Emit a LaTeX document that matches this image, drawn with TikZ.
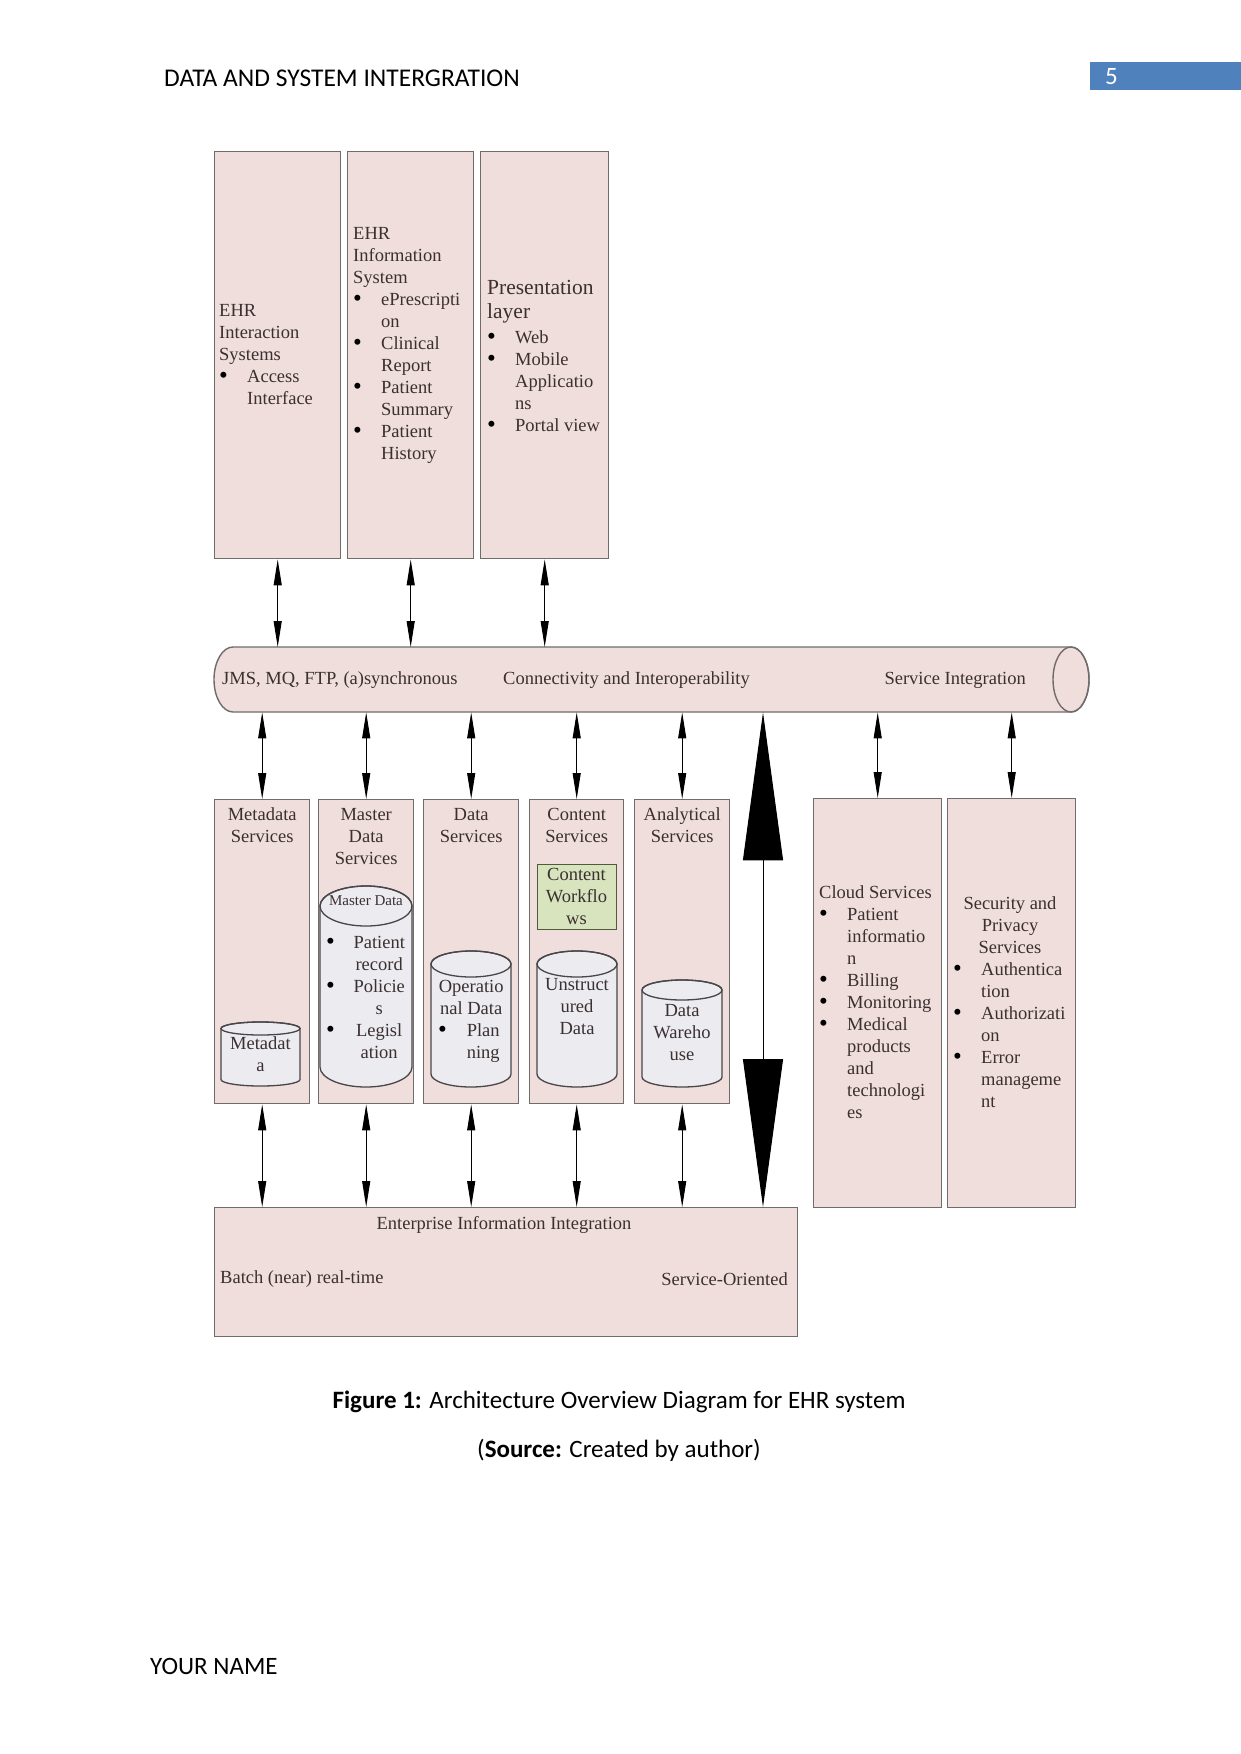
\documentclass[tikz,border=0pt]{standalone}
\usepackage{fontspec}
\setmainfont{Liberation Serif}
\newfontfamily\calib{Carlito}
\usetikzlibrary{arrows.meta}
\definecolor{boxfill}{RGB}{240,222,220}
\definecolor{boxline}{RGB}{112,108,108}
\definecolor{txt}{RGB}{58,48,48}
\definecolor{cylfill}{RGB}{236,235,240}
\definecolor{cylline}{RGB}{72,70,72}
\definecolor{greenfill}{RGB}{215,228,189}
\definecolor{greenline}{RGB}{80,90,60}
\definecolor{hdrblue}{RGB}{79,129,189}
\newlength\myind \setlength\myind{28pt}
\newcommand\bigbul{\raisebox{-1.5pt}{\fontsize{25}{22}\selectfont\textcolor{black}{\textbullet}}}
\newcommand\bl[1]{\makebox[\myind][l]{\bigbul}#1}
\newcommand\ct[1]{\hspace*{\myind}#1}
\newcommand\mbl[1]{\makebox[22pt][l]{\bigbul}\makebox[62pt][c]{#1}}
\newcommand\mct[1]{\hspace*{22pt}\makebox[62pt][c]{#1}}
\newcommand\ptx[2]{\parbox[t]{#1}{#2}}
\newcommand\drawcyl[5]{%
  \pgfmathsetmacro\cylrx{(#2-#1)/2}%
  \path[cyl] (#1,#3+#5) -- (#1,#4-#5) arc[start angle=180,end angle=360,x radius=\cylrx pt,y radius=#5pt]
     -- (#2,#3+#5) arc[start angle=0,end angle=180,x radius=\cylrx pt,y radius=#5pt] -- cycle;
  \draw[cyl, fill=none] ({(#1+#2)/2},#3+#5) ellipse[x radius=\cylrx pt, y radius=#5pt];
}
\tikzset{
  pbox/.style={draw=boxline, fill=boxfill, line width=1.4pt, rectangle, inner sep=0pt, anchor=north west},
  dtext/.style={text=txt, inner sep=0pt, font=\fontsize{18.5}{22}\selectfont},
  conn/.style={draw=black, line width=1pt, {Triangle[length=26pt,width=8pt]}-{Triangle[length=26pt,width=8pt]}},
  bigarrow/.style={draw=black, line width=1pt, {Triangle[length=148pt,width=40pt]}-{Triangle[length=148pt,width=40pt]}},
  cyl/.style={draw=cylline, fill=cylfill, line width=1.3pt},
  hdrfont/.style={font=\calib\fontsize{25}{30}\selectfont, inner sep=0pt},
}
\begin{document}
\begin{tikzpicture}[x=1pt,y=-1pt]
\path[use as bounding box, fill=white] (0,0) rectangle (1241,1754);

% header / footer
\node[hdrfont, font=\calib\fontsize{25.5}{30}\selectfont, anchor=base west] (hdr) at (164,86) {DATA AND SYSTEM INTERGRATION};
\node[fill=hdrblue, anchor=north west, minimum width=151pt, minimum height=28pt, inner sep=0pt] (pg) at (1090,62) {};
\node[hdrfont, text=white, anchor=base west] (pgn) at (1105,84) {5};
\node[hdrfont, anchor=base] (cap1) at (619,1408) {\textbf{Figure 1:} Architecture Overview Diagram for EHR system};
\node[hdrfont, anchor=base] (cap2) at (619,1457) {(\textbf{Source:} Created by author)};
\node[hdrfont, anchor=base west] (nm) at (150,1674) {YOUR NAME};

% top boxes
\node[pbox, minimum width=126pt, minimum height=407pt] (t1) at (214,151) {};
\node[pbox, minimum width=126pt, minimum height=407pt] (t2) at (347,151) {};
\node[pbox, minimum width=128pt, minimum height=407pt] (t3) at (480,151) {};
\node[dtext, anchor=base west] (t1t) at (219,316) {\ptx{120pt}{\raggedright EHR\\Interaction\\Systems\\\bl{Access}\\\ct{Interface}}};
\node[dtext, anchor=base west] (t2t) at (353,239) {\ptx{118pt}{\raggedright EHR\\Information\\System\\\bl{ePrescripti}\\\ct{on}\\\bl{Clinical}\\\ct{Report}\\\bl{Patient}\\\ct{Summary}\\\bl{Patient}\\\ct{History}}};
\node[dtext, font=\fontsize{21.5}{24}\selectfont, anchor=base west] (t3h) at (487,294) {\ptx{118pt}{\raggedright Presentation\\layer}};
\node[dtext, anchor=base west] (t3t) at (487,343) {\ptx{118pt}{\raggedright \bl{Web}\\\bl{Mobile}\\\ct{Applicatio}\\\ct{ns}\\\bl{Portal view}}};

% pipe
\node[inner sep=0pt, minimum width=875pt, minimum height=65pt, anchor=north west] (pipe) at (214,647) {};
\path[draw=boxline, fill=boxfill, line width=1.4pt] (233,647) -- (1071,647)
   arc[start angle=90, end angle=-90, x radius=18pt, y radius=32.5pt] -- (233,712)
   arc[start angle=270, end angle=90, x radius=19pt, y radius=32.5pt] -- cycle;
\draw[draw=boxline, line width=1.4pt] (1071,679.5) ellipse[x radius=18pt, y radius=32.5pt];
\node[dtext, anchor=base west] (p1) at (222,684) {JMS, MQ, FTP, (a)synchronous};
\node[dtext, anchor=base west] (p2) at (503,684) {Connectivity and Interoperability};
\node[dtext, anchor=base east] (p3) at (1026,684) {Service Integration};

% middle boxes
\node[pbox, minimum width=95pt, minimum height=304pt] (m1) at (214,799) {};
\node[pbox, minimum width=95pt, minimum height=304pt] (m2) at (318,799) {};
\node[pbox, minimum width=95pt, minimum height=304pt] (m3) at (423,799) {};
\node[pbox, minimum width=94pt, minimum height=304pt] (m4) at (529,799) {};
\node[pbox, minimum width=95pt, minimum height=304pt] (m5) at (634,799) {};
\node[dtext, anchor=base] (m1t) at (m1.north |- 0,820) {\ptx{95pt}{\centering Metadata\\Services}};
\node[dtext, anchor=base] (m2t) at (m2.north |- 0,820) {\ptx{95pt}{\centering Master\\Data\\Services}};
\node[dtext, anchor=base] (m3t) at (m3.north |- 0,820) {\ptx{95pt}{\centering Data\\Services}};
\node[dtext, anchor=base] (m4t) at (m4.north |- 0,820) {\ptx{94pt}{\centering Content\\Services}};
\node[dtext, anchor=base] (m5t) at (m5.north |- 0,820) {\ptx{95pt}{\centering Analytical\\Services}};

% cylinders
\drawcyl{221}{300}{1022}{1086}{6.5}
\drawcyl{320}{412}{886}{1087}{20}
\drawcyl{431}{511}{951}{1087}{13}
\drawcyl{537}{617}{951}{1087}{13}
\drawcyl{642}{722}{980}{1087}{10}
\node[dtext, anchor=base] (c1t) at (260.5,1049) {\ptx{79pt}{\centering Metadat\\a}};
\node[dtext, font=\fontsize{15}{18}\selectfont, anchor=base] (c2h) at (366,905) {Master Data};
\node[dtext, anchor=base west] (c2t) at (326,948) {\ptx{90pt}{\raggedright\mbl{Patient}\\\mct{record}\\\mbl{Policie}\\\mct{s}\\\mbl{Legisl}\\\mct{ation}}};
\node[dtext, anchor=base west] (c3t) at (431,992) {\ptx{80pt}{\raggedright\makebox[80pt][c]{Operatio}\\\makebox[80pt][c]{nal Data}\\\hspace*{7pt}\makebox[20pt][l]{\bigbul}\makebox[50pt][c]{Plan}\\\hspace*{27pt}\makebox[50pt][c]{ning}}};
\node[dtext, anchor=base] (c4t) at (577,990) {\ptx{80pt}{\centering Unstruct\\ured\\Data}};
\node[dtext, anchor=base] (c5t) at (682,1016) {\ptx{80pt}{\centering Data\\Wareho\\use}};

% content workflows
\node[draw=greenline, fill=greenfill, line width=1.3pt, anchor=north west, minimum width=79pt, minimum height=65pt, inner sep=0pt] (cwf) at (537,864) {};
\node[dtext, anchor=base] (cwft) at (576.5,880) {\ptx{79pt}{\centering Content\\Workflo\\ws}};

% cloud and security
\node[pbox, minimum width=128pt, minimum height=409pt] (cl) at (813,798) {};
\node[pbox, minimum width=128pt, minimum height=409pt] (sec) at (947,798) {};
\node[dtext, anchor=base west] (clt) at (819,898) {\ptx{122pt}{\raggedright Cloud Services\\\bl{Patient}\\\ct{informatio}\\\ct{n}\\\bl{Billing}\\\bl{Monitoring}\\\bl{Medical}\\\ct{products}\\\ct{and}\\\ct{technologi}\\\ct{es}}};
\node[dtext, anchor=base] (sech) at (1010,909) {\ptx{128pt}{\centering Security and\\Privacy\\Services}};
\node[dtext, anchor=base west] (sect) at (953,975) {\ptx{122pt}{\raggedright \bl{Authentica}\\\ct{tion}\\\bl{Authorizati}\\\ct{on}\\\bl{Error}\\\ct{manageme}\\\ct{nt}}};

% bottom box
\node[pbox, minimum width=583pt, minimum height=129pt] (eii) at (214,1207) {};
\node[dtext, anchor=base] (eiit) at (504,1229) {Enterprise Information Integration};
\node[dtext, anchor=base west] (eii1) at (220,1283) {Batch (near) real-time};
\node[dtext, anchor=base east] (eii2) at (788,1285) {Service-Oriented};

% connectors
\draw[conn] (t1.south) -- (t1.south |- pipe.north);
\draw[conn] (t2.south) -- (t2.south |- pipe.north);
\draw[conn] (t3.south) -- (t3.south |- pipe.north);
\foreach \b in {m1,m2,m3,m4,m5,cl,sec}{
  \draw[conn] (\b.north |- pipe.south) -- (\b.north);
}
\foreach \b in {m1,m2,m3,m4,m5}{
  \draw[conn] (\b.south) -- (\b.south |- eii.north);
}
\coordinate (bx) at (763,700);
\draw[bigarrow] (bx |- pipe.south) -- (bx |- eii.north);
\end{tikzpicture}
\end{document}
